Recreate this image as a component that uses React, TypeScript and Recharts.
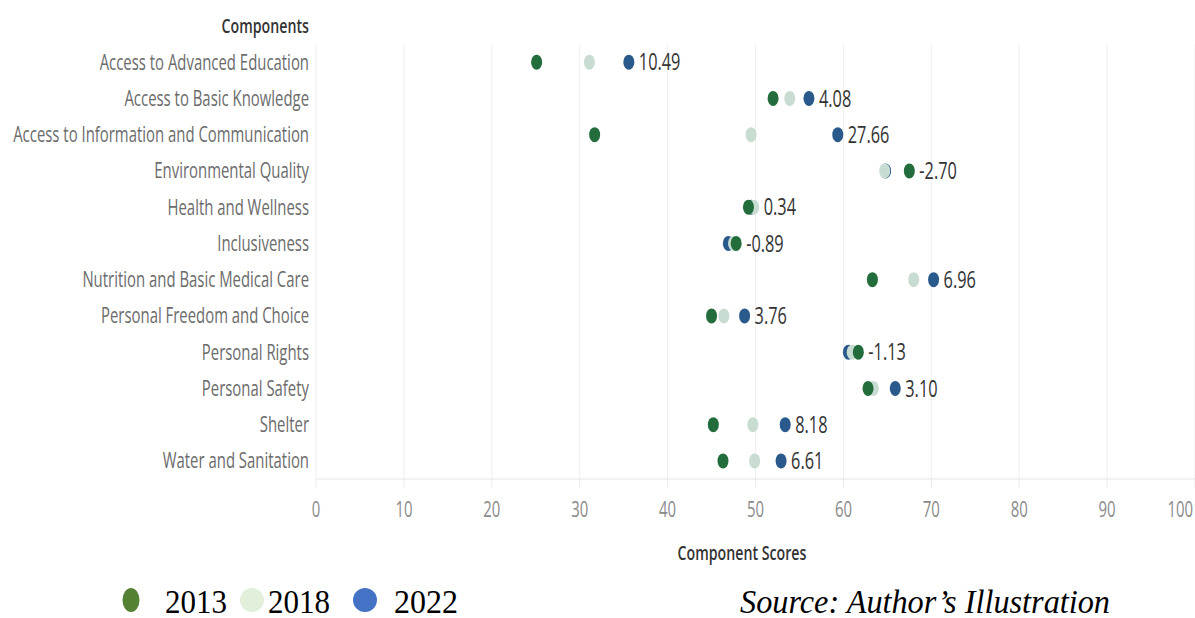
import React from "react";
import { ScatterChart, Scatter, XAxis, YAxis, CartesianGrid } from "recharts";

const categories = [
  "Access to Advanced Education",
  "Access to Basic Knowledge",
  "Access to Information and Communication",
  "Environmental Quality",
  "Health and Wellness",
  "Inclusiveness",
  "Nutrition and Basic Medical Care",
  "Personal Freedom and Choice",
  "Personal Rights",
  "Personal Safety",
  "Shelter",
  "Water and Sanitation",
];

const scores2013 = [25.1, 52.0, 31.7, 67.5, 49.2, 47.8, 63.3, 45.0, 61.7, 62.8, 45.2, 46.3];
const scores2018 = [31.1, 53.9, 49.5, 64.7, 49.8, 47.5, 68.0, 46.4, 61.0, 63.4, 49.7, 49.9];
const scores2022 = [35.59, 56.08, 59.36, 64.8, 49.54, 46.91, 70.26, 48.76, 60.57, 65.9, 53.38, 52.91];
const changes = ["10.49", "4.08", "27.66", "-2.70", "0.34", "-0.89", "6.96", "3.76", "-1.13", "3.10", "8.18", "6.61"];

const xTicks = [0, 10, 20, 30, 40, 50, 60, 70, 80, 90, 100];

const GREEN = "#236c3c";
const LIGHT = "#c9dcd1";
const BLUE = "#2a5a8b";

const FONT = "'Open Sans', sans-serif";
const SQ = 0.71;

const toPoints = (vals: number[]) => vals.map((v, i) => ({ x: v, y: i, name: categories[i] }));
const labelPoints = categories.map((c, i) => ({
  x: Math.max(scores2013[i], scores2018[i], scores2022[i]),
  y: i,
  label: changes[i],
}));

const dot = (color: string) => (props: any) => (
  <ellipse cx={props.cx} cy={props.cy} rx={5.5} ry={7.5} fill={color} />
);

const ChangeLabel = (props: any) => (
  <text
    transform={`translate(${props.cx + 10},${props.cy}) scale(${SQ},1)`}
    dy="0.36em"
    fontSize={23}
    fontFamily={FONT}
    fill="#333"
  >
    {props.payload.label}
  </text>
);

const CatTick = (props: any) => {
  const { x, y, payload } = props;
  return (
    <text
      transform={`translate(${x + 1},${y}) scale(${SQ},1)`}
      dy="0.36em"
      textAnchor="end"
      fontSize={21}
      fontFamily={FONT}
      fill="#6b6b6b"
    >
      {categories[payload.value]}
    </text>
  );
};

const NumTick = (props: any) => {
  const { x, y, payload } = props;
  const last = payload.value === 100;
  return (
    <text
      transform={`translate(${last ? x - 2 : x},${y + 27}) scale(${SQ},1)`}
      textAnchor={last ? "end" : "middle"}
      fontSize={21}
      fontFamily={FONT}
      fill="#8a8a8a"
    >
      {payload.value}
    </text>
  );
};

export default function App() {
  return (
    <div style={{ position: "absolute", left: 0, top: 0, width: 1195, height: 618, background: "#fff" }}>
      <ScatterChart width={1195} height={618} margin={{ top: 44, right: 0, bottom: 69, left: 0 }}>
        <CartesianGrid horizontal={false} stroke="#efefef" />
        <XAxis
          type="number"
          dataKey="x"
          domain={[0, 100]}
          ticks={xTicks}
          height={70}
          tickSize={9}
          axisLine={{ stroke: "#e4e4e4" }}
          tickLine={{ stroke: "#ececec" }}
          tick={<NumTick />}
          interval={0}
        />
        <YAxis
          type="number"
          dataKey="y"
          domain={[-0.5, 11.5]}
          reversed
          ticks={categories.map((_, i) => i)}
          width={316}
          axisLine={false}
          tickLine={false}
          tick={<CatTick />}
          interval={0}
        />
        <Scatter data={toPoints(scores2022)} shape={dot(BLUE)} isAnimationActive={false} />
        <Scatter data={toPoints(scores2018)} shape={dot(LIGHT)} isAnimationActive={false} />
        <Scatter data={toPoints(scores2013)} shape={dot(GREEN)} isAnimationActive={false} />
        <Scatter data={labelPoints} shape={<ChangeLabel />} isAnimationActive={false} />
        <text
          transform={`translate(309,26) scale(${SQ},1)`}
          dy="0.36em"
          textAnchor="end"
          fontSize={20}
          fontWeight={600}
          fontFamily={FONT}
          fill="#333"
        >
          Components
        </text>
        <text
          transform={`translate(742,553) scale(${SQ},1)`}
          dy="0.36em"
          textAnchor="middle"
          fontSize={20}
          fontWeight={600}
          fontFamily={FONT}
          fill="#333"
        >
          Component Scores
        </text>
      </ScatterChart>
      <svg width={1195} height={60} style={{ position: "absolute", left: 0, top: 575 }}>
        <ellipse cx={131} cy={25} rx={8.5} ry={12} fill="#548235" />
        <text x={165} y={38} fontSize={33} fontFamily="'Liberation Serif', serif" fill="#000" textLength={62} lengthAdjust="spacingAndGlyphs">2013</text>
        <ellipse cx={252} cy={25} rx={12} ry={12} fill="#e2efda" />
        <text x={268} y={38} fontSize={33} fontFamily="'Liberation Serif', serif" fill="#000" textLength={62} lengthAdjust="spacingAndGlyphs">2018</text>
        <ellipse cx={365} cy={25} rx={12} ry={12} fill="#4472c4" />
        <text x={394} y={38} fontSize={33} fontFamily="'Liberation Serif', serif" fill="#000" textLength={64} lengthAdjust="spacingAndGlyphs">2022</text>
        <text x={740} y={38} fontSize={33} fontStyle="italic" fontFamily="'Liberation Serif', serif" fill="#000" textLength={370} lengthAdjust="spacingAndGlyphs">Source: Author’s Illustration</text>
      </svg>
    </div>
  );
}
